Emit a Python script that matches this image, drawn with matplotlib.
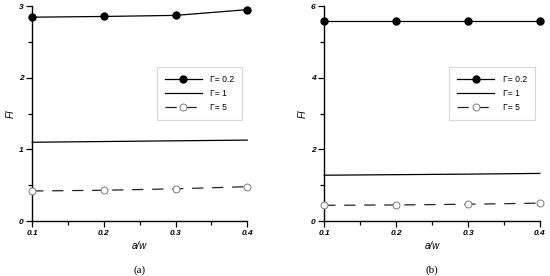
import matplotlib
matplotlib.use("Agg")
import matplotlib.pyplot as plt
from matplotlib.ticker import MultipleLocator, FixedLocator

x = [0.1, 0.2, 0.3, 0.4]
a_g02 = [2.845, 2.855, 2.87, 2.95]
a_g1 = [1.10, 1.11, 1.12, 1.13]
a_g5 = [0.42, 0.43, 0.45, 0.48]
b_g02 = [5.57, 5.57, 5.57, 5.57]
b_g1 = [1.28, 1.295, 1.31, 1.33]
b_g5 = [0.44, 0.45, 0.47, 0.50]
labels = ["\u0393= 0.2", "\u0393= 1", "\u0393= 5"]
xticks = [0.1, 0.2, 0.3, 0.4]
xminor = [0.15, 0.25, 0.35]

plt.rcParams['font.family'] = ['Liberation Sans', 'DejaVu Sans']
fig = plt.figure(figsize=(5.5, 2.76), dpi=100)

panels = [
    dict(rect=[0.0585, 0.199, 0.391, 0.779], g02=a_g02, g1=a_g1, g5=a_g5,
         ylim=(0, 3), major=1, minor=[0.5, 1.5, 2.5], tag="(a)"),
    dict(rect=[0.5896, 0.199, 0.392, 0.779], g02=b_g02, g1=b_g1, g5=b_g5,
         ylim=(0, 6), major=2, minor=[1, 3, 5], tag="(b)"),
]

for p in panels:
    ax = fig.add_axes(p["rect"])
    ax.plot(x, p["g02"], color="black", lw=0.9, marker="o", ms=5,
            mfc="black", mec="black", label=labels[0], clip_on=False, zorder=3)
    ax.plot(x, p["g1"], color="black", lw=0.9, label=labels[1], clip_on=False)
    ax.plot(x, p["g5"], color="#222222", lw=0.9, ls=(0, (9, 7)), marker="o", ms=5,
            mfc="white", mec="#777777", mew=0.7, label=labels[2], clip_on=False, zorder=3)
    ax.set_xlim(0.1, 0.4)
    ax.set_ylim(*p["ylim"])
    ax.set_xticks(xticks)
    ax.set_xticklabels(["0.1", "0.2", "0.3", "0.4"])
    ax.set_xticks(xminor, minor=True)
    ax.yaxis.set_major_locator(MultipleLocator(p["major"]))
    ax.set_yticks(p["minor"], minor=True)
    for s in ["top", "right"]:
        ax.spines[s].set_visible(False)
    for s in ["left", "bottom"]:
        ax.spines[s].set_linewidth(1.0)
    ax.tick_params(which="major", direction="out", length=4.3, width=0.9, labelsize=6, pad=2)
    ax.tick_params(which="minor", direction="out", length=2.6, width=0.9)
    for t in ax.get_xticklabels() + ax.get_yticklabels():
        t.set_fontweight("bold")
        t.set_fontstyle("italic")
    ax.set_xlabel("a/w", fontsize=7, fontstyle="italic", labelpad=3)
    ax.set_ylabel("FI", fontsize=7, fontstyle="italic", labelpad=2)
    leg = ax.legend(loc="upper left", bbox_to_anchor=(0.56, 0.735), fontsize=6.2,
                    frameon=True, fancybox=False, edgecolor="#cccccc",
                    handlelength=4.3, handletextpad=1.0, borderpad=0.9,
                    labelspacing=0.6, markerfirst=True)
    leg.get_frame().set_linewidth(0.8)
    ax.text(0.5, -0.205, p["tag"], transform=ax.transAxes, ha="center", va="top",
            fontsize=8, family=["Liberation Serif", "DejaVu Serif"])

fig.savefig("out.png", dpi=100)
